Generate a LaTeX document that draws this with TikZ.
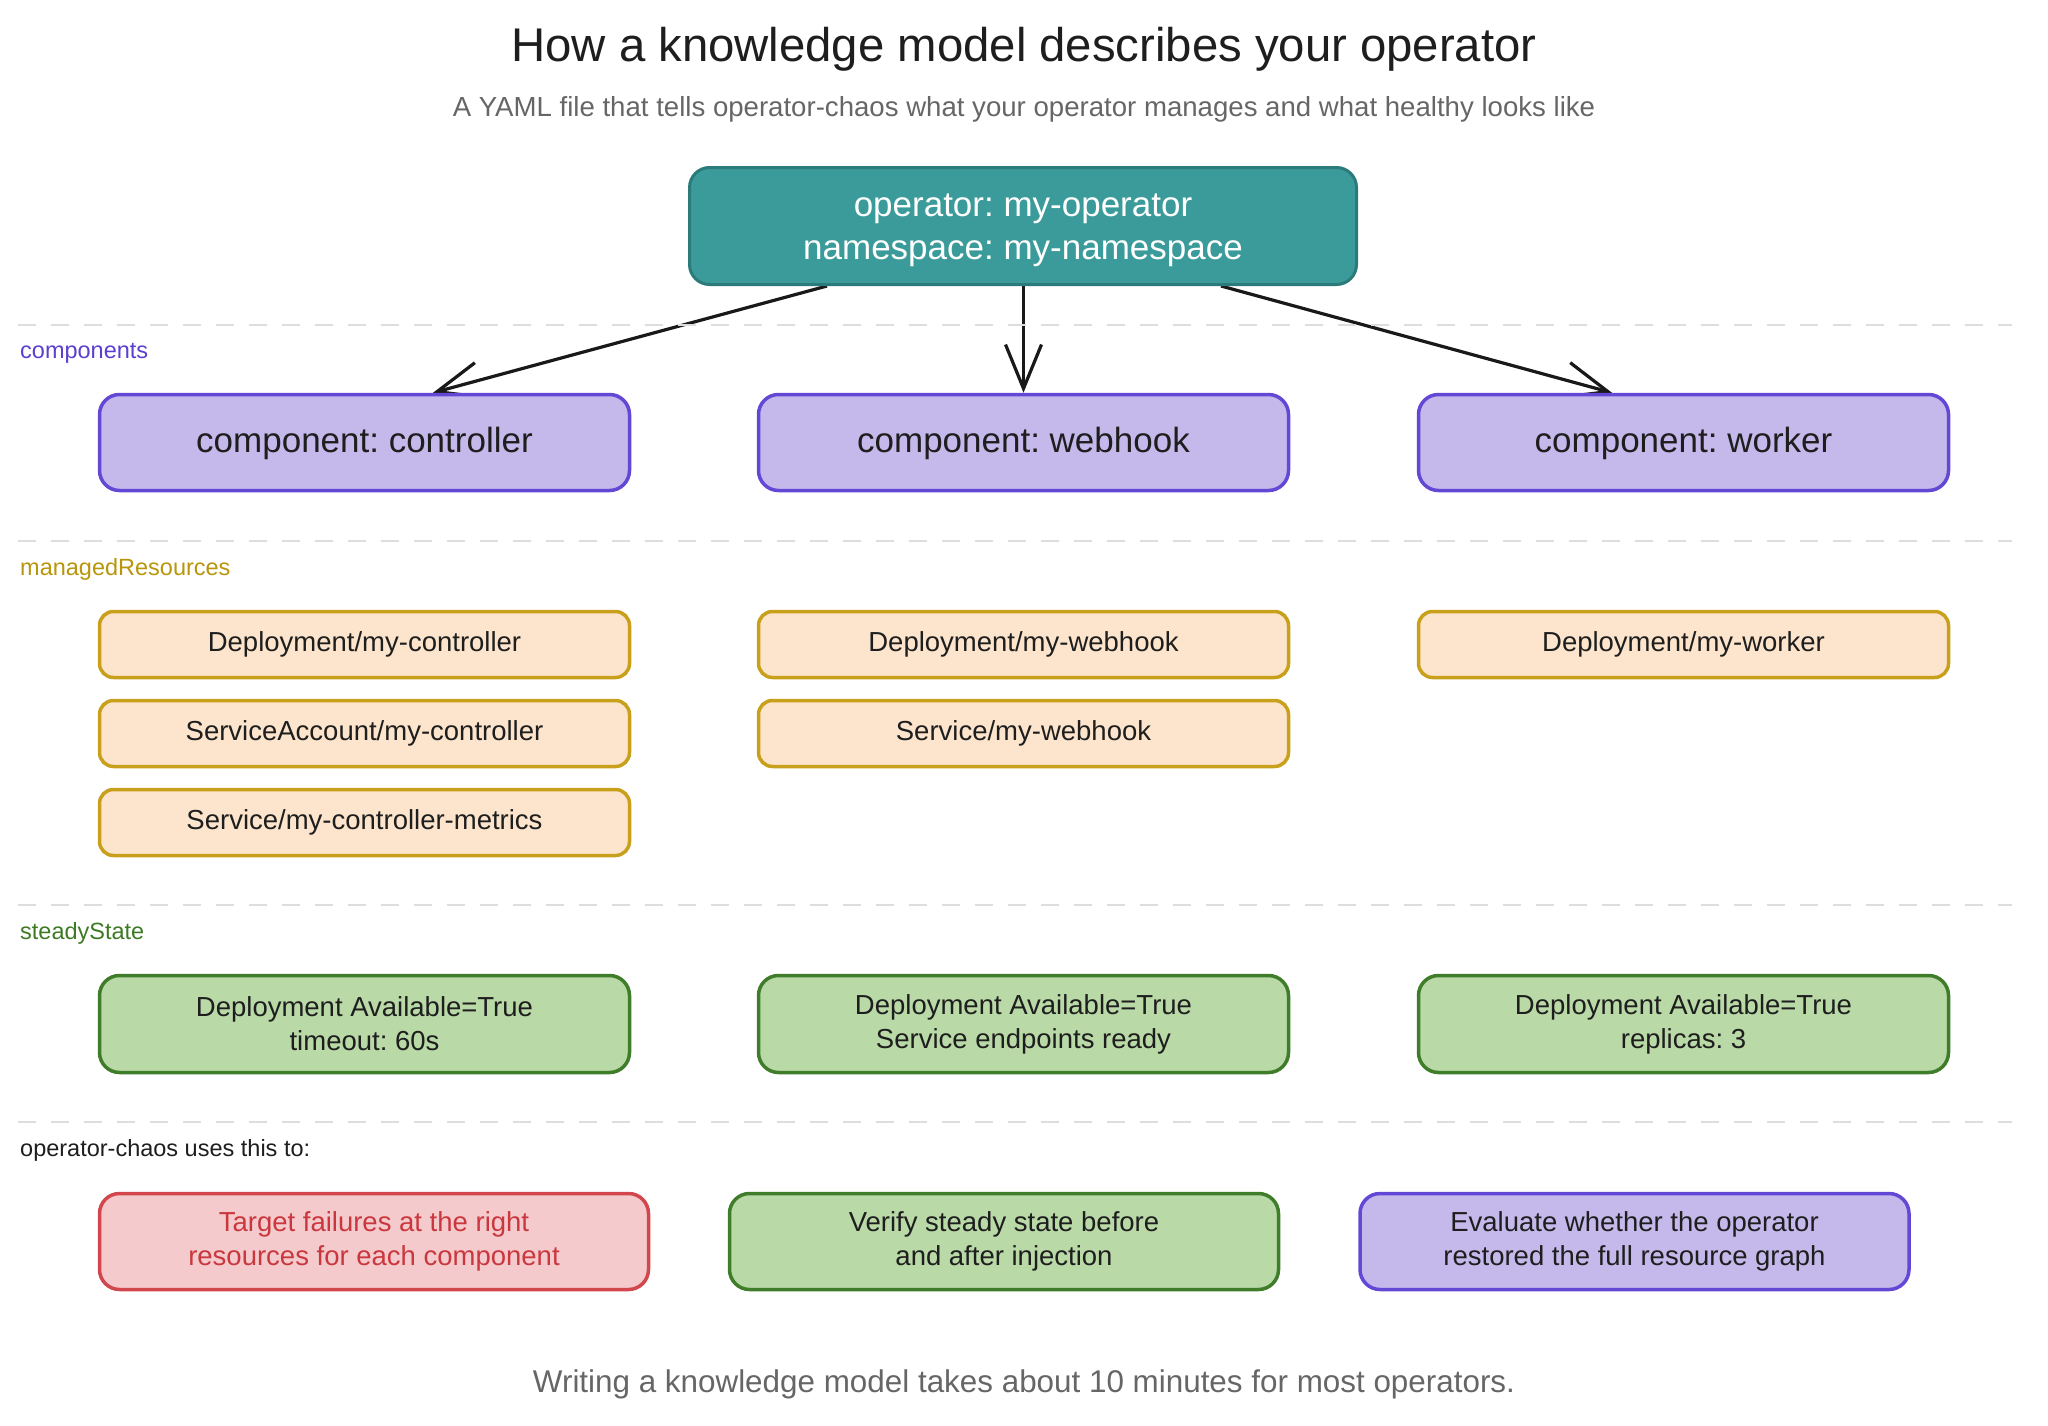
\documentclass[tikz,border=0pt]{standalone}
\usepackage{fontspec}
\setmainfont{Liberation Sans}
\usetikzlibrary{arrows.meta,calc,backgrounds}
\definecolor{tealfill}{HTML}{3B9B9A}
\definecolor{tealdraw}{HTML}{2A7B79}
\definecolor{purfill}{HTML}{C5B9EB}
\definecolor{purdraw}{HTML}{6347D5}
\definecolor{peachfill}{HTML}{FCE5CC}
\definecolor{peachdraw}{HTML}{C9A01C}
\definecolor{grnfill}{HTML}{B9D9A7}
\definecolor{grndraw}{HTML}{3F7D2B}
\definecolor{redfill}{HTML}{F5CACC}
\definecolor{reddraw}{HTML}{D1474D}
\definecolor{redtext}{HTML}{C9383E}
\definecolor{txt}{HTML}{1E1E1E}
\definecolor{dashgray}{HTML}{DDDDDD}
\definecolor{subgray}{HTML}{666666}
\definecolor{comptext}{HTML}{5B3FD0}
\definecolor{mrtext}{HTML}{B8950B}
\definecolor{sstext}{HTML}{3D7A23}
\frenchspacing
\begin{document}
\begin{tikzpicture}[x=1pt,y=-1pt,
  box/.style={draw, line width=3.5pt, rounded corners=20pt, inner sep=0pt, align=center, text=txt},
  topbox/.style={box, fill=tealfill, draw=tealdraw, line width=3pt, minimum width=667pt, minimum height=117pt, text=white, font=\fontsize{35}{43}\selectfont},
  compbox/.style={box, fill=purfill, draw=purdraw, minimum width=530pt, minimum height=96pt, font=\fontsize{35}{43}\selectfont},
  resbox/.style={box, fill=peachfill, draw=peachdraw, rounded corners=14pt, minimum width=530pt, minimum height=66pt, font=\fontsize{27.5}{34}\selectfont},
  ssbox/.style={box, fill=grnfill, draw=grndraw, minimum width=530pt, minimum height=97pt, font=\fontsize{27.5}{34}\selectfont},
  usebox/.style={box, minimum width=549pt, minimum height=96pt, font=\fontsize{27.5}{34}\selectfont},
  seclabel/.style={anchor=west, inner sep=0pt, font=\fontsize{23.5}{28}\selectfont},
  sep/.style={dashgray, line width=2.5pt, dash pattern=on 18pt off 15pt},
  conn/.style={line width=3.2pt, black!90, -{Straight Barb[length=44pt,width=36pt,line width=3.2pt]}}
]
\useasboundingbox (0,0) rectangle (2048,1426);

% title
\node[inner sep=0pt, text=txt, font=\fontsize{47.3}{56}\selectfont] (title) at (1024,49) {How a knowledge model describes your operator};
\node[inner sep=0pt, text=subgray, font=\fontsize{27.6}{32}\selectfont] (subtitle) at (1024,109) {A YAML file that tells operator-chaos what your operator manages and what healthy looks like};

% separators
\coordinate (s1a) at (18,325); \coordinate (s1b) at (2012,325);
\coordinate (s2a) at (18,541); \coordinate (s2b) at (2012,541);
\coordinate (s3a) at (18,905); \coordinate (s3b) at (2012,905);
\coordinate (s4a) at (18,1122); \coordinate (s4b) at (2012,1122);
\draw[sep] (s1a) -- (s1b);
\draw[sep] (s2a) -- (s2b);
\draw[sep] (s3a) -- (s3b);
\draw[sep] (s4a) -- (s4b);

% section labels
\node[seclabel, text=comptext] (lcomp) at (20,353) {components};
\node[seclabel, text=mrtext] (lmr) at (20,569) {managedResources};
\node[seclabel, text=sstext] (lss) at (20,933) {steadyState};
\node[seclabel, text=txt] (luse) at (20,1150) {operator-chaos uses this to:};

% top node
\node[topbox] (top) at (1023,226) {\rule{0pt}{31pt}operator: my-operator\\namespace: my-namespace};

% components
\node[compbox] (ctrl) at (364.5,442.5) {\rule{0pt}{28pt}component: controller};
\node[compbox] (webh) at (1023.5,442.5) {\rule{0pt}{28pt}component: webhook};
\node[compbox] (work) at (1683.5,442.5) {\rule{0pt}{28pt}component: worker};

% managed resources
\node[resbox] (r11) at (364.5,644.5) {Deployment/my-controller};
\node[resbox] (r12) at (364.5,733.5) {ServiceAccount/my-controller};
\node[resbox] (r13) at (364.5,822.5) {Service/my-controller-metrics};
\node[resbox] (r21) at (1023.5,644.5) {Deployment/my-webhook};
\node[resbox] (r22) at (1023.5,733.5) {Service/my-webhook};
\node[resbox] (r31) at (1683.5,644.5) {Deployment/my-worker};

% steady state
\node[ssbox] (ss1) at (364.5,1024) {Deployment Available=True\\timeout: 60s};
\node[ssbox] (ss2) at (1023.5,1024) {Deployment Available=True\\Service endpoints ready};
\node[ssbox] (ss3) at (1683.5,1024) {Deployment Available=True\\replicas: 3};

% uses
\node[usebox, fill=redfill, draw=reddraw, text=redtext] (u1) at (374,1241.5) {Target failures at the right\\resources for each component};
\node[usebox, fill=grnfill, draw=grndraw] (u2) at (1004,1241.5) {Verify steady state before\\and after injection};
\node[usebox, fill=purfill, draw=purdraw] (u3) at (1634.5,1241.5) {Evaluate whether the operator\\restored the full resource graph};

% footer
\node[inner sep=0pt, text=subgray, font=\fontsize{31.4}{37}\selectfont] (footer) at (1024,1384) {Writing a knowledge model takes about 10 minutes for most operators.};

% connectors (behind boxes)
\begin{pgfonlayer}{background}
\draw[conn] ($(top.south)+(-196,0)$) -- ($(ctrl.north)+(68.5,0)$);
\draw[conn] (top.south -| webh.north) -- (webh.north);
\draw[conn] ($(top.south)+(198,0)$) -- ($(work.north)+(-71.5,0)$);
\end{pgfonlayer}
\end{tikzpicture}
\end{document}
